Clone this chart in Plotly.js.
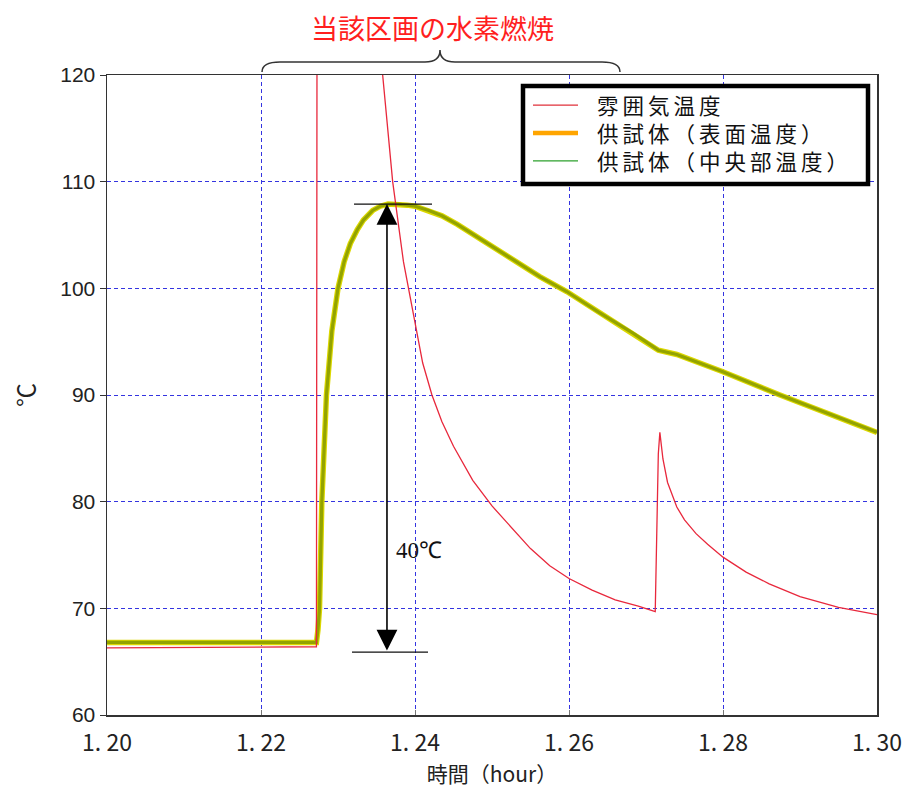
<!DOCTYPE html>
<html>
<head>
<meta charset="utf-8">
<script src="https://cdn.plot.ly/plotly-3.0.1.min.js"></script>
<style>html,body{margin:0;padding:0;background:#fff;}#chart{width:908px;height:792px;}</style>
</head>
<body>
<div id="chart"></div>
<script>
// Atmosphere temperature (雰囲気温度)
var atmTime = [1.2000, 1.2272, 1.2275, 1.2340, 1.2358, 1.2371, 1.2385, 1.2399, 1.2410, 1.2422, 1.2435, 1.2450, 1.2475, 1.2500, 1.2525, 1.2550, 1.2575, 1.2600, 1.2630, 1.2660, 1.2690, 1.2712, 1.2716, 1.2718, 1.2722, 1.2728, 1.2740, 1.2750, 1.2765, 1.2780, 1.2800, 1.2830, 1.2860, 1.2900, 1.2950, 1.3000];
var atmTemp = [66.3, 66.4, 300, 140, 120, 110, 102.5, 97, 93, 90, 87.5, 85.2, 82, 79.6, 77.6, 75.6, 74, 72.8, 71.7, 70.8, 70.2, 69.7, 84.5, 86.5, 84, 81.8, 79.5, 78.3, 77, 76, 74.8, 73.4, 72.3, 71.1, 70.1, 69.4];

// Specimen surface temperature (供試体（表面温度）)
var surfTime = [1.2000, 1.2272, 1.2274, 1.2276, 1.2279, 1.2285, 1.2292, 1.2300, 1.2308, 1.2316, 1.2325, 1.2333, 1.2345, 1.2355, 1.2365, 1.2378, 1.2390, 1.2400, 1.2418, 1.2435, 1.2455, 1.2488, 1.2523, 1.2562, 1.2597, 1.2640, 1.2683, 1.2716, 1.2740, 1.2770, 1.2799, 1.2874, 1.3000];
var surfTemp = [66.8, 66.8, 68, 70, 80, 90, 96, 100, 102.5, 104.2, 105.5, 106.4, 107.3, 107.7, 107.9, 107.9, 107.8, 107.7, 107.3, 106.8, 106.0, 104.5, 102.9, 101.1, 99.7, 97.7, 95.8, 94.2, 93.8, 93.0, 92.2, 90.0, 86.5];

// Specimen centre temperature (供試体（中央部温度）)
var coreTime = [1.2000, 1.2272, 1.2274, 1.2276, 1.2279, 1.2285, 1.2292, 1.2300, 1.2308, 1.2316, 1.2325, 1.2333, 1.2345, 1.2355, 1.2365, 1.2378, 1.2390, 1.2400, 1.2418, 1.2435, 1.2455, 1.2488, 1.2523, 1.2562, 1.2597, 1.2640, 1.2683, 1.2716, 1.2740, 1.2770, 1.2799, 1.2874, 1.3000];
var coreTemp = [66.8, 66.8, 68, 70, 80, 90, 96, 100, 102.5, 104.2, 105.5, 106.4, 107.3, 107.7, 107.9, 107.9, 107.8, 107.7, 107.3, 106.8, 106.0, 104.5, 102.9, 101.1, 99.7, 97.7, 95.8, 94.2, 93.8, 93.0, 92.2, 90.0, 86.5];

var seriesNames = ['雰囲気温度', '供試体（表面温度）', '供試体（中央部温度）'];
var legendColors = ['#e0303a', '#ffa500', '#2ca02c'];
var xTickVals = [1.20, 1.22, 1.24, 1.26, 1.28, 1.30];
var xTickText = ['1. 20', '1. 22', '1. 24', '1. 26', '1. 28', '1. 30'];
var yTickVals = [60, 70, 80, 90, 100, 110, 120];

// Annotated temperature rise
var riseTime = 1.23636;
var riseLow = 65.9;
var riseHigh = 107.9;
var riseLabel = '40℃';

var jp = 'Noto Sans CJK JP';

var traces = [
  {x: surfTime, y: surfTemp, type: 'scatter', mode: 'lines', name: seriesNames[1], line: {color: '#dcd800', width: 5.5}},
  {x: coreTime, y: coreTemp, type: 'scatter', mode: 'lines', name: seriesNames[2], line: {color: '#93a300', width: 3.2}},
  {x: atmTime, y: atmTemp, type: 'scatter', mode: 'lines', name: seriesNames[0], line: {color: '#e8283c', width: 1.3}}
];

function px2paperX(p) { return (p - 107) / 770; }
function px2paperY(p) { return (715 - p) / 640; }

var bx = [262, 280, 425, 440, 455, 602, 620].map(px2paperX);
var byLow = px2paperY(72), byMid = px2paperY(62), byTip = px2paperY(50);
var bracePath = 'M ' + bx[0] + ',' + byLow +
  ' Q ' + bx[0] + ',' + byMid + ' ' + bx[1] + ',' + byMid +
  ' L ' + bx[2] + ',' + byMid +
  ' Q ' + bx[3] + ',' + byMid + ' ' + bx[3] + ',' + byTip +
  ' Q ' + bx[3] + ',' + byMid + ' ' + bx[4] + ',' + byMid +
  ' L ' + bx[5] + ',' + byMid +
  ' Q ' + bx[6] + ',' + byMid + ' ' + bx[6] + ',' + byLow;

var legendFont = 21.5;
var lineGap = legendFont * 1.3;
var legendMid = 133;
var rowY = [legendMid - lineGap, legendMid, legendMid + lineGap];

var shapes = [
  {type: 'path', xref: 'paper', yref: 'paper', path: bracePath, line: {color: '#333', width: 1.5}},
  {type: 'line', xref: 'x', yref: 'y', x0: 1.23208, x1: 1.24221, y0: riseHigh, y1: riseHigh, line: {color: '#111', width: 1.3}},
  {type: 'line', xref: 'x', yref: 'y', x0: 1.23182, x1: 1.24169, y0: riseLow, y1: riseLow, line: {color: '#111', width: 1.3}},
  // legend box
  {type: 'rect', xref: 'paper', yref: 'paper', x0: px2paperX(523), x1: px2paperX(868), y0: px2paperY(184), y1: px2paperY(86),
   fillcolor: '#ffffff', line: {color: '#000', width: 4.5}, layer: 'above'}
];
var legendWidths = [1.3, 4.5, 1.3];
for (var i = 0; i < seriesNames.length; i++) {
  shapes.push({type: 'line', xref: 'paper', yref: 'paper', x0: px2paperX(533), x1: px2paperX(578),
    y0: px2paperY(rowY[i]), y1: px2paperY(rowY[i]), line: {color: legendColors[i], width: legendWidths[i]}, layer: 'above'});
}
var legendText = seriesNames.map(function (s) { return '<span style="letter-spacing:4px">' + s + '</span>'; }).join('<br>');

var annotations = [
  {xref: 'paper', yref: 'paper', x: px2paperX(432), y: px2paperY(27), text: '当該区画の水素燃焼', showarrow: false,
   font: {family: jp, size: 27, color: '#ff1f1f'}, xanchor: 'center', yanchor: 'middle'},
  {xref: 'x', yref: 'y', x: riseTime, y: riseHigh, ax: riseTime, ay: riseLow, axref: 'x', ayref: 'y',
   text: '', showarrow: true, arrowhead: 2, arrowside: 'end+start', arrowsize: 2.6, arrowwidth: 1.6, arrowcolor: '#000',
   standoff: 0, startstandoff: 0},
  {xref: 'x', yref: 'y', x: 1.2405, y: 75.4, text: riseLabel, showarrow: false,
   font: {family: 'Liberation Serif', size: 23, color: '#111'}, xanchor: 'center', yanchor: 'middle'},
  {xref: 'paper', yref: 'paper', x: px2paperX(595), y: px2paperY(legendMid), text: legendText, showarrow: false,
   xanchor: 'left', yanchor: 'middle', align: 'left', font: {family: jp, size: legendFont, color: '#111'}}
];

var layout = {
  width: 908, height: 792,
  margin: {l: 107, r: 31, t: 75, b: 77},
  paper_bgcolor: '#ffffff', plot_bgcolor: '#ffffff',
  showlegend: false,
  font: {family: jp, color: '#111'},
  xaxis: {
    range: [1.20, 1.30], tickvals: xTickVals, ticktext: xTickText,
    tickfont: {family: jp, size: 23, color: '#222'},
    showgrid: true, gridcolor: '#3434e0', griddash: '4px,3px', gridwidth: 1,
    showline: true, mirror: true, linecolor: '#333', linewidth: 1.5,
    ticks: 'inside', ticklen: 5, tickcolor: '#777', ticklabelstandoff: 7,
    zeroline: false, automargin: false,
    title: {text: '時間（hour）', font: {family: jp, size: 21, color: '#222'}, standoff: 5}
  },
  yaxis: {
    range: [60, 120], tickvals: yTickVals,
    tickfont: {family: 'Liberation Sans', size: 21, color: '#222'},
    showgrid: true, gridcolor: '#3434e0', griddash: '4px,3px', gridwidth: 1,
    showline: true, mirror: true, linecolor: '#333', linewidth: 1.5,
    ticks: 'outside', ticklen: 6, tickcolor: '#333',
    zeroline: false, automargin: false,
    title: {text: '℃', font: {family: jp, size: 24, color: '#222'}, standoff: 18}
  },
  shapes: shapes,
  annotations: annotations
};

Plotly.newPlot('chart', traces, layout, {displayModeBar: false, staticPlot: true});
</script>
</body>
</html>
